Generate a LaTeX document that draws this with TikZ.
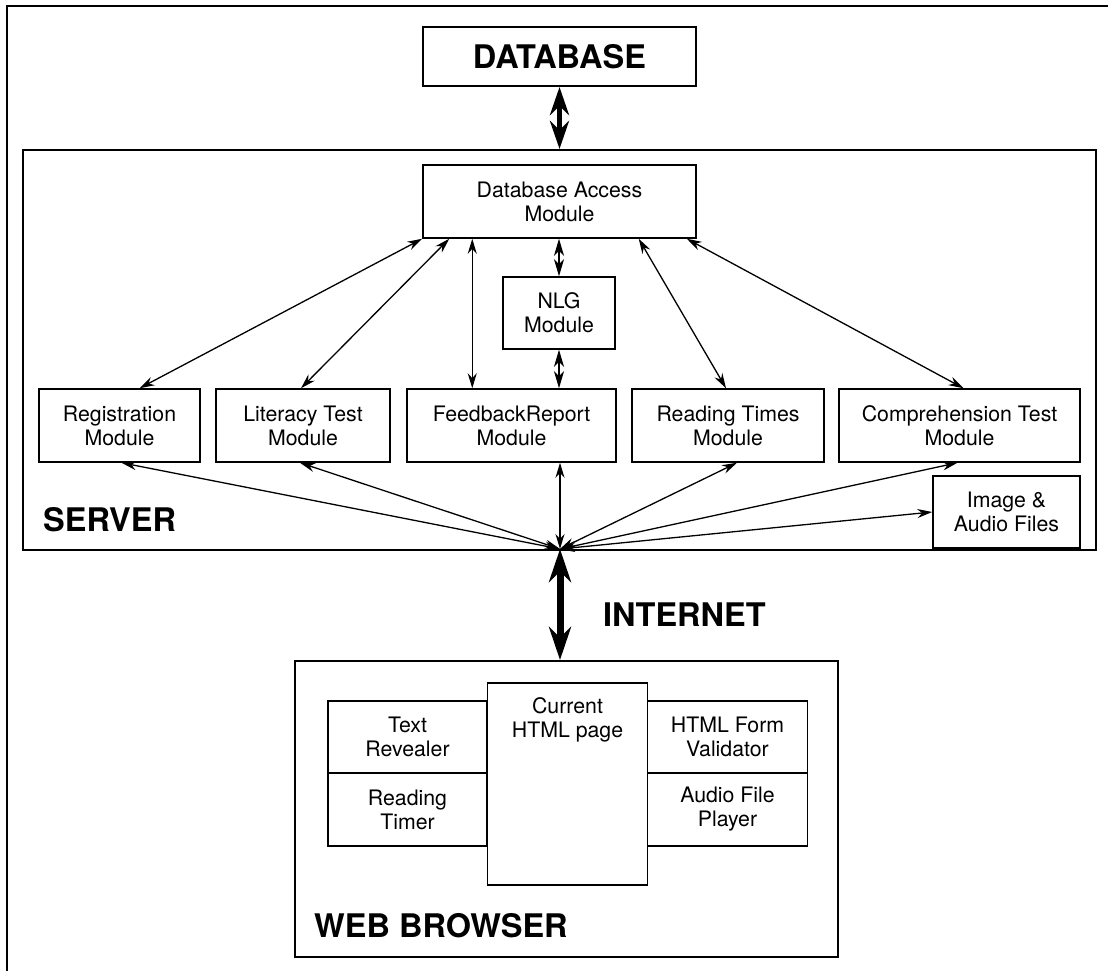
\documentclass[tikz,border=0pt]{standalone}
\usepackage{fontspec}
\setmainfont{TeX Gyre Heros}
\usetikzlibrary{arrows.meta, positioning, calc}

\tikzset{
  modbox/.style={draw, line width=1.5pt, align=center, inner sep=0pt,
    font=\fontsize{21.3}{24}\selectfont},
  container/.style={draw, line width=2pt, inner sep=0pt},
  bigtext/.style={font=\fontsize{32.5}{36}\selectfont\bfseries, inner sep=0pt},
  link/.style={{Stealth[length=15pt,width=9pt]}-{Stealth[length=15pt,width=9pt]}, line width=1.3pt},
  nlglink/.style={{Stealth[length=17pt,width=10pt,inset=5pt]}-{Stealth[length=17pt,width=10pt,inset=5pt]}, line width=1.3pt},
  dbpipe/.style={{Stealth[length=28pt,width=19pt]}-{Stealth[length=28pt,width=19pt]}, line width=5pt},
  netpipe/.style={{Stealth[length=33pt,width=22pt]}-{Stealth[length=33pt,width=22pt]}, line width=7pt}
}

\begin{document}
\begin{tikzpicture}[x=1pt, y=-1pt, line cap=butt]
  \useasboundingbox (0,0) rectangle (1108,971);
  \draw[line width=2.5pt] (7,971) -- (7,6) -- (1108,6);

  % database and server
  \node[modbox, bigtext, line width=2pt, minimum width=273pt, minimum height=59pt] (db) at (559.5,56.5) {DATABASE};
  \node[container, minimum width=1073pt, minimum height=400pt] (server) at (559.5,350) {};
  \node[bigtext, anchor=west] (serverlbl) at (43,520) {SERVER};

  \node[modbox, minimum width=273pt, minimum height=73pt] (dam) at (559.5,201.5) {Database Access\\Module};
  \node[modbox, minimum width=112pt, minimum height=72pt] (nlg) at (559,313) {NLG\\Module};

  \node[modbox, minimum width=161pt, minimum height=73pt] (reg) at (119.5,425.5) {Registration\\Module};
  \node[modbox, minimum width=174pt, minimum height=73pt] (lit) at (303,425.5) {Literacy Test\\Module};
  \node[modbox, minimum width=209pt, minimum height=73pt] (feed) at (511.5,425.5) {FeedbackReport\\Module};
  \node[modbox, minimum width=192pt, minimum height=73pt] (rt) at (728,425.5) {Reading Times\\Module};
  \node[modbox, minimum width=241pt, minimum height=73pt] (comp) at (959.5,425.5) {Comprehension Test\\Module};
  \node[modbox, minimum width=147pt, minimum height=72pt] (img) at (1006.5,512) {Image \&\\Audio Files};

  \coordinate (hub) at (560,549);

  % web browser
  \node[container, minimum width=543pt, minimum height=296pt] (browser) at (566.5,809) {};
  \node[bigtext, anchor=west] (browserlbl) at (314,926) {WEB BROWSER};
  \node[modbox, minimum width=159pt, minimum height=72pt] (reveal) at (407.5,737) {Text\\Revealer};
  \node[modbox, minimum width=159pt, minimum height=73pt] (timer) at (407.5,809.5) {Reading\\Timer};
  \node[modbox, minimum width=160pt, minimum height=72pt] (valid) at (727.5,737) {HTML Form\\Validator};
  \node[modbox, minimum width=160pt, minimum height=73pt] (player) at (727.5,809.5) {Audio File\\Player};
  \node[modbox, fill=white, minimum width=160pt, minimum height=202pt] (page) at (567.5,784) {};
  \node[font=\fontsize{21.3}{24}\selectfont, align=center, anchor=north, inner sep=0pt] (pagelbl) at (567.5,697) {Current\\HTML page};
  \node[bigtext, anchor=west] (netlbl) at (603,615) {INTERNET};

  % connectors
  \draw[dbpipe] (db.south) -- (server.north);
  \draw[netpipe] (hub) -- (hub |- browser.north);

  \draw[nlglink] (dam.south -| nlg.north) -- (nlg.north);
  \draw[nlglink] (nlg.south) -- (nlg.south |- feed.north);

  \draw[link] (dam.south west) -- ([xshift=20pt]reg.north);
  \draw[link] ([xshift=27pt]dam.south west) -- ([xshift=-2pt]lit.north);
  \draw[link] ([xshift=50pt]dam.south west) -- ([xshift=50pt]dam.south west |- feed.north);
  \draw[link] ([xshift=-58pt]dam.south east) -- ([xshift=-2pt]rt.north);
  \draw[link] ([xshift=-10pt]dam.south east) -- ([xshift=4pt]comp.north);

  \draw[link] (hub) -- ([xshift=2pt]reg.south);
  \draw[link] (hub) -- ([xshift=-3pt]lit.south);
  \draw[link] (hub) -- (hub |- feed.south);
  \draw[link] (hub) -- ([xshift=9pt]rt.south);
  \draw[link] (hub) -- ([xshift=-2pt]comp.south);
  \draw[link] (hub) -- (img.west);
\end{tikzpicture}
\end{document}
